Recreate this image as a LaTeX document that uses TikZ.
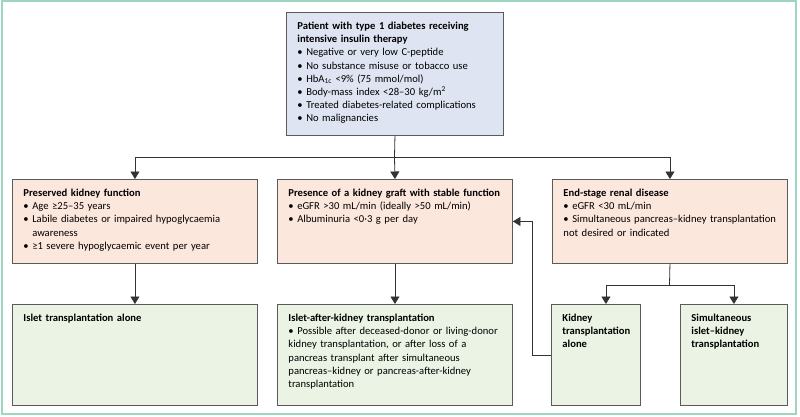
\documentclass[tikz,border=0pt]{standalone}
\usepackage{fontspec}
\setmainfont{Carlito}
\usetikzlibrary{arrows.meta}

\definecolor{lavender}{HTML}{DFE4F2}
\definecolor{peach}{HTML}{FCE7DD}
\definecolor{mint}{HTML}{EBF4E4}
\definecolor{boxline}{HTML}{5A5A5A}
\definecolor{linkline}{HTML}{333333}
\definecolor{framecol}{HTML}{9FD6C2}

\newlength\bulwd
\newcommand{\bul}{\par\settowidth{\bulwd}{\textbullet\ }\hangindent=\bulwd\hangafter=1\textbullet\ }

\tikzset{
  box/.style={draw=boxline, line width=0.9pt, anchor=north west, align=left,
    inner xsep=11pt, inner ysep=9pt, text height=8pt,
    font=\fontsize{10.6}{13.2}\selectfont\setlength{\parskip}{0pt}},
  startbox/.style={box, fill=lavender, text depth=97pt},
  condbox/.style={box, fill=peach, text depth=58pt},
  txbox/.style={box, fill=mint, text depth=75pt},
  link/.style={draw=linkline, line width=0.8pt},
  arr/.style={link, -{Triangle[width=9pt,length=7.5pt]}}
}

\begin{document}
\begin{tikzpicture}[x=1pt,y=-1pt]
\useasboundingbox (0,0) rectangle (800,417);
%outer frame
\draw[framecol, line width=1.4pt] (2,1) rectangle (796,414);

%patient box
\node[startbox, text width=195pt] (patient) at (286,12)
  {\textbf{Patient with type 1 diabetes receiving\newline intensive insulin therapy}
   \bul Negative or very low C-peptide
   \bul No substance misuse or tobacco use
   \bul HbA\textsubscript{1c} <9\% (75 mmol/mol)
   \bul Body-mass index <28–30 kg/m\textsuperscript{2}
   \bul Treated diabetes-related complications
   \bul No malignancies};

%conditions
\node[condbox, text width=223pt] (preserved) at (12,179)
  {\textbf{Preserved kidney function}
   \bul Age ≥25–35 years
   \bul Labile diabetes or impaired hypoglycaemia\newline awareness
   \bul ≥1 severe hypoglycaemic event per year};
\node[condbox, text width=213pt] (graft) at (277,179)
  {\textbf{Presence of a kidney graft with stable function}
   \bul eGFR >30 mL/min (ideally >50 mL/min)
   \bul Albuminuria <0·3 g per day};
\node[condbox, text width=213pt] (esrd) at (552,179)
  {\textbf{End-stage renal disease}
   \bul eGFR <30 mL/min
   \bul Simultaneous pancreas–kidney transplantation\newline not desired or indicated};

%transplant options
\node[txbox, text width=223pt] (isletalone) at (12,304)
  {\textbf{Islet transplantation alone}};
\node[txbox, text width=213pt] (islakid) at (277,304)
  {\textbf{Islet-after-kidney transplantation}
   \bul Possible after deceased-donor or living-donor\newline kidney transplantation, or after loss of a\newline pancreas transplant after simultaneous\newline pancreas–kidney or pancreas-after-kidney\newline transplantation};
\node[txbox, text width=67pt] (kidalone) at (551,304)
  {\textbf{Kidney\newline transplantation\newline alone}};
\node[txbox, text width=85pt] (simult) at (680,304)
  {\textbf{Simultaneous\newline islet–kidney\newline transplantation}};

%connectors
\coordinate (split) at (394.5,157);
\coordinate (esplit) at (669.5,285);
\draw[link] (patient.south) -- (split);
\draw[arr] (split) -| (preserved.north);
\draw[arr] (split) -- (graft.north);
\draw[arr] (split) -| (esrd.north);
\draw[arr] (preserved.south) -- (isletalone.north);
\draw[arr] (graft.south) -- (islakid.north);
\draw[link] (esrd.south) -- (esplit);
\draw[arr] (esplit) -| ([xshift=10pt]kidalone.north);
\draw[arr] (esplit) -| (simult.north);
\draw[arr] (kidalone.west) -- ++(-19,0) |- (graft.east);
\end{tikzpicture}
\end{document}
